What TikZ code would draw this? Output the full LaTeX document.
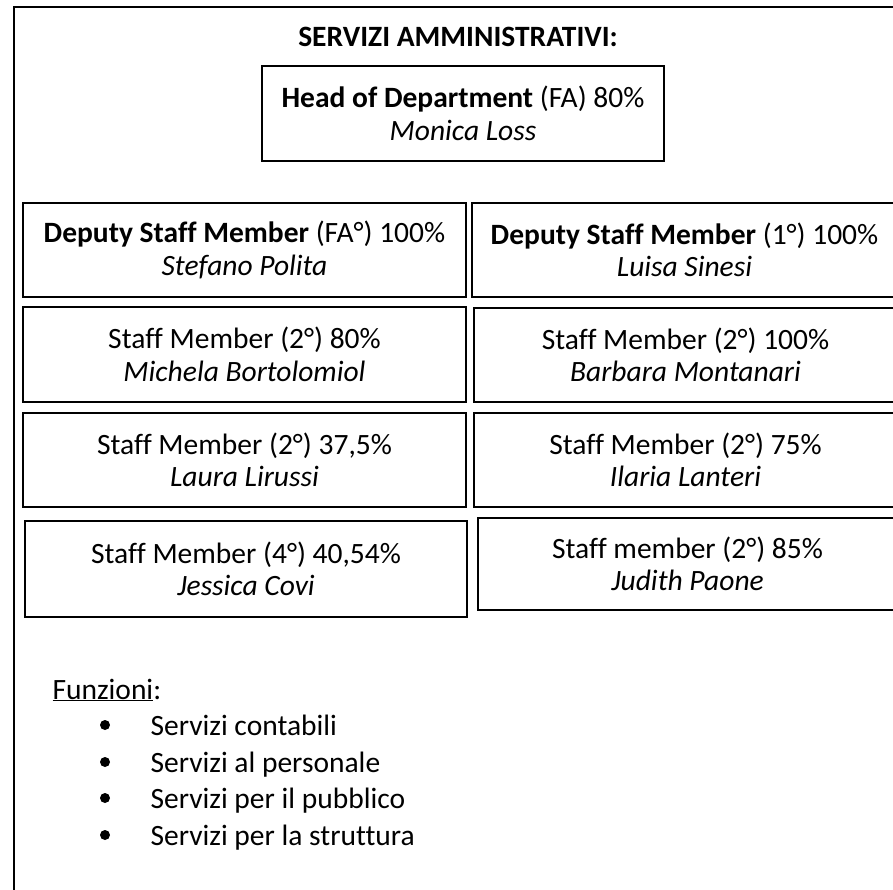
\documentclass[tikz,border=0pt]{standalone}
\usepackage{fontspec}
\setmainfont{Carlito}[Ligatures={TeX,NoCommon}]
\usepackage{tikz}

\tikzset{staffbox/.style={draw, line width=1.6pt, align=center, inner sep=0pt, font=\fontsize{29.5}{32.5}\selectfont}}

\begin{document}
\begin{tikzpicture}[x=1pt,y=-1pt]
\clip (0,0) rectangle (893,890);
\fill[white] (0,0) rectangle (893,890);
\draw[line width=2pt] (13.5,900) -- (13.5,7) -- (900,7);
\node[anchor=base, font=\fontsize{29.5}{32.5}\selectfont\bfseries] (title) at (458,47) {SERVIZI AMMINISTRATIVI:};

\node[staffbox, minimum width=402pt, minimum height=95pt] (head) at (463,113.5) {\textbf{Head of Department} (FA) 80\%\\\textit{Monica Loss}};

\node[staffbox, minimum width=443pt, minimum height=94pt] (deputyfa) at (244.5,250) {\textbf{Deputy Staff Member} (FA°) 100\%\\\textit{Stefano Polita}};
\node[staffbox, minimum width=425pt, minimum height=94pt] (deputyone) at (684.5,250) {\textbf{Deputy Staff Member} (1°) 100\%\\\textit{Luisa Sinesi}};
\node[staffbox, minimum width=443pt, minimum height=95pt] (bortolomiol) at (244.5,354.5) {Staff Member (2°) 80\%\\\textit{Michela Bortolomiol}};
\node[staffbox, minimum width=423pt, minimum height=94pt] (montanari) at (685.5,355) {Staff Member (2°) 100\%\\\textit{Barbara Montanari}};
\node[staffbox, minimum width=443pt, minimum height=94pt] (lirussi) at (244.5,460) {Staff Member (2°) 37,5\%\\\textit{Laura Lirussi}};
\node[staffbox, minimum width=423pt, minimum height=94pt] (lanteri) at (685.5,460) {Staff Member (2°) 75\%\\\textit{Ilaria Lanteri}};
\node[staffbox, minimum width=442pt, minimum height=96pt] (covi) at (246,569) {Staff Member (4°) 40,54\%\\\textit{Jessica Covi}};
\node[staffbox, minimum width=419pt, minimum height=92pt] (paone) at (687.5,564) {Staff member (2°) 85\%\\\textit{Judith Paone}};

\node[anchor=base west, font=\fontsize{29.5}{32.5}\selectfont] (funzioni) at (49,699) {\underline{Funzioni}:};
\foreach \y/\task in {735/Servizi contabili, 772/Servizi al personale, 808/Servizi per il pubblico, 845/Servizi per la struttura}
{
	\fill (105,\y-10) circle (5pt);
	\node[anchor=base west, font=\fontsize{29.5}{32.5}\selectfont] at (147,\y) {\task};
}
\end{tikzpicture}
\end{document}
